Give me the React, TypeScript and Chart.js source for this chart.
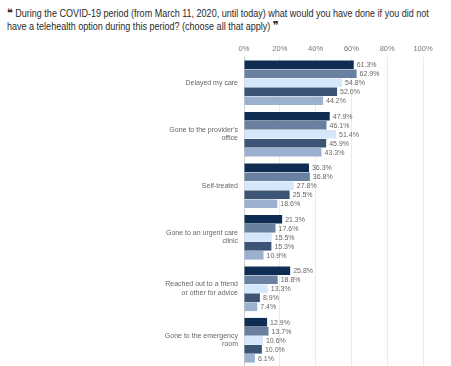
import React, { useEffect, useRef } from "react";
import { Chart, registerables } from "chart.js";

Chart.register(...registerables);

const categories: string[][] = [
  ["Delayed my care"],
  ["Gone to the provider's", "office"],
  ["Self-treated"],
  ["Gone to an urgent care", "clinic"],
  ["Reached out to a friend", "or other for advice"],
  ["Gone to the emergency", "room"],
];

const series1 = [61.3, 47.9, 36.3, 21.3, 25.8, 12.9];
const series2 = [62.9, 46.1, 36.8, 17.6, 18.8, 13.7];
const series3 = [54.8, 51.4, 27.8, 15.5, 13.3, 10.6];
const series4 = [52.0, 45.9, 25.5, 15.3, 8.9, 10.0];
const series5 = [44.2, 43.3, 18.6, 10.9, 7.4, 6.1];

const seriesNames = ["Series 1", "Series 2", "Series 3", "Series 4", "Series 5"];
const xTicks = [0, 20, 40, 60, 80, 100];

const colors = ["#0f2d52", "#6a80a1", "#d6e6fb", "#3c5476", "#9cb0cf"];

const FONT = "'Liberation Sans', Arial, sans-serif";

const valueLabels = {
  id: "valueLabels",
  afterDatasetsDraw(chart: any) {
    const ctx = chart.ctx;
    ctx.save();
    ctx.font = `7px ${FONT}`;
    ctx.fillStyle = "#666";
    ctx.textAlign = "left";
    ctx.textBaseline = "middle";
    chart.data.datasets.forEach((ds: any, i: number) => {
      const meta = chart.getDatasetMeta(i);
      meta.data.forEach((bar: any, j: number) => {
        ctx.fillText(ds.data[j].toFixed(1) + "%", bar.x + 3, bar.y + 0.5);
      });
    });
    ctx.restore();
  },
};

export default function App() {
  const ref = useRef<HTMLCanvasElement>(null);
  useEffect(() => {
    const all = [series1, series2, series3, series4, series5];
    const chart = new Chart(ref.current!, {
      type: "bar",
      data: {
        labels: categories,
        datasets: all.map((d, i) => ({
          label: seriesNames[i],
          data: d,
          backgroundColor: colors[i],
          borderWidth: 0,
          categoryPercentage: 0.875,
          barPercentage: 0.96,
        })),
      },
      options: {
        indexAxis: "y",
        animation: false,
        responsive: false,
        maintainAspectRatio: false,
        layout: { padding: { left: 0, right: 28, top: 0, bottom: 0 } },
        plugins: { legend: { display: false }, tooltip: { enabled: false } },
        scales: {
          x: {
            position: "top",
            min: 0,
            max: 100,
            afterBuildTicks: (scale: any) => {
              scale.ticks = xTicks.map((v) => ({ value: v }));
            },
            afterFit: (scale: any) => {
              scale.height = 19;
              scale.paddingLeft = 0;
              scale.paddingRight = 0;
            },
            ticks: {
              font: { family: FONT, size: 7.5 },
              color: "#777",
              padding: 4,
              callback: (v: any) => v + "%",
            },
            grid: { color: "#ebebeb", drawTicks: false },
            border: { display: false },
          },
          y: {
            afterFit: (scale: any) => {
              scale.width = 244;
              scale.paddingTop = 0;
              scale.paddingBottom = 0;
            },
            ticks: {
              font: { family: FONT, size: 7, lineHeight: 1.2 },
              color: "#666",
              padding: 6,
            },
            grid: { display: false, drawTicks: false },
            border: { display: true, color: "#d0d0d0" },
          },
        },
      },
      plugins: [valueLabels],
    } as any);
    return () => chart.destroy();
  }, []);

  const quote = { fontFamily: "'DejaVu Sans', sans-serif", fontWeight: "bold" as const, fontSize: 12, color: "#222" };

  return (
    <div style={{ position: "absolute", left: 0, top: 0, width: 451, height: 366, background: "#fff", overflow: "hidden" }}>
      <div
        style={{
          position: "absolute",
          left: 7,
          top: 7,
          width: 530,
          transform: "scaleX(0.82)",
          transformOrigin: "left top",
          fontFamily: "'Liberation Sans', Arial, sans-serif",
          fontSize: 11,
          lineHeight: "13px",
          color: "#2a2a2a",
        }}
      >
        <span style={quote}>{"\u275D"}</span> During the COVID-19 period (from March 11, 2020, until today) what would you have done if you did not have a telehealth option during this period? (choose all that apply){" "}
        <span style={quote}>{"\u275E"}</span>
      </div>
      <canvas ref={ref} width={451} height={328} style={{ position: "absolute", left: 0, top: 38, width: 451, height: 328 }} />
    </div>
  );
}
